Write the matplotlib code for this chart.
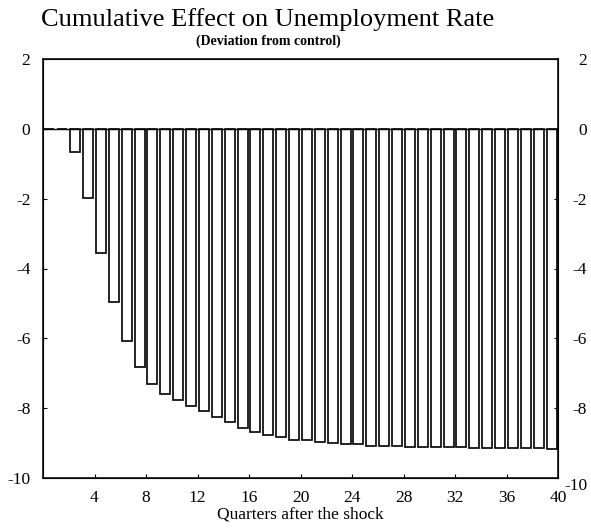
import numpy as np
import matplotlib.pyplot as plt

plt.rcParams['font.family'] = 'Liberation Serif'
plt.rcParams['axes.unicode_minus'] = False

# Cumulative response of the unemployment rate, quarters 1..40
quarters = np.arange(1, 41)
effect = [0.0, 0.0, -0.67, -1.99, -3.55, -4.97, -6.08, -6.83, -7.31, -7.60,
          -7.78, -7.93, -8.08, -8.24, -8.41, -8.57, -8.68, -8.78, -8.84, -8.90,
          -8.92, -8.97, -8.99, -9.02, -9.04, -9.07, -9.08, -9.09, -9.10, -9.10,
          -9.11, -9.11, -9.12, -9.13, -9.13, -9.14, -9.14, -9.15, -9.15, -9.16]

xticks = [4, 8, 12, 16, 20, 24, 28, 32, 36, 40]
yticks = [-10, -8, -6, -4, -2, 0, 2]

fig = plt.figure(figsize=(5.91, 5.29), dpi=100)
ax = fig.add_axes([43/591, 1 - 478/529, 515/591, 419/529])

ax.bar(quarters - 0.5, effect, width=0.78, color='white',
       edgecolor='black', linewidth=1.2, zorder=2)
ax.axhline(0, color='black', linewidth=1.0, zorder=3)

ax.set_xlim(0, 40)
ax.set_ylim(-10, 2)
ax.set_xticks(xticks)
ax.set_yticks(yticks)
ax.tick_params(axis='both', direction='in', length=3, width=0.8,
               labelsize=12.5, pad=9)
for s in ax.spines.values():
    s.set_linewidth(1.1)

# right-hand scale: same ticks, labels right-aligned, bottom one hangs lower
ax2 = ax.twinx()
ax2.set_ylim(-10, 2)
ax2.set_yticks(yticks)
ax2.tick_params(axis='y', direction='in', length=3, width=0.8,
                labelsize=12.5, pad=21)
for lab in ax2.get_yticklabels():
    lab.set_horizontalalignment('right')
    if lab.get_text() == '-10':
        lab.set_verticalalignment('top')

ax.set_xlabel('Quarters after the shock', fontsize=12.5, labelpad=0)

fig.text(268/591, 1 - 20/529, 'Cumulative Effect on Unemployment Rate',
         ha='center', va='center', fontsize=19)
fig.text(268/591, 1 - 41/529, '(Deviation from control)',
         ha='center', va='center', fontsize=10, fontweight='bold')

fig.savefig('out.png', dpi=100)
